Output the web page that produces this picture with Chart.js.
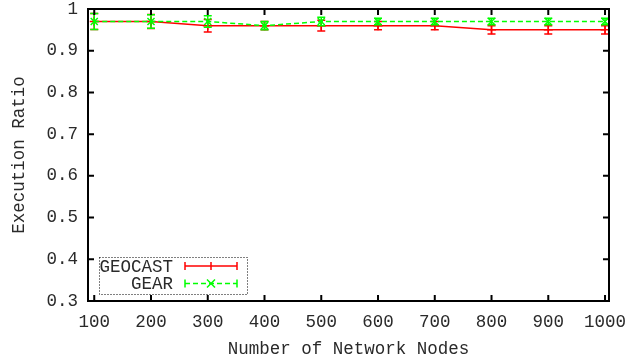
<!DOCTYPE html>
<html>
<head>
<meta charset="utf-8">
<script src="https://cdn.jsdelivr.net/npm/chart.js@4.4.0/dist/chart.umd.min.js"></script>
<style>
  html, body { margin: 0; padding: 0; background: #fff; }
  #wrap { width: 630px; height: 361px; }
</style>
</head>
<body>
<div id="wrap"><canvas id="chart"></canvas></div>
<script>
// data
const nodes = [100, 200, 300, 400, 500, 600, 700, 800, 900, 1000];
const geocast = [0.97, 0.97, 0.96, 0.96, 0.96, 0.96, 0.96, 0.95, 0.95, 0.95];
const geocastErr = [0.019, 0.017, 0.015, 0.01, 0.013, 0.01, 0.01, 0.01, 0.01, 0.01];
const gear = [0.97, 0.97, 0.97, 0.96, 0.97, 0.97, 0.97, 0.97, 0.97, 0.97];
const gearErr = [0.019, 0.016, 0.014, 0.01, 0.01, 0.008, 0.008, 0.008, 0.008, 0.008];
const xTicks = [100, 200, 300, 400, 500, 600, 700, 800, 900, 1000];
const yTicks = [0.3, 0.4, 0.5, 0.6, 0.7, 0.8, 0.9, 1];

const RED = '#ff0000';
const GREEN = '#00ff00';
const FONT = "'Liberation Mono', 'DejaVu Sans Mono', monospace";
const FONT_SIZE = 17.5;
const TEXT = '#2a2a2a';

Chart.defaults.font.family = FONT;
Chart.defaults.font.size = FONT_SIZE;
Chart.defaults.color = TEXT;

// vertical error bars with small caps, drawn right after each dataset
const errorBars = {
    id: 'errorBars',
    afterDatasetDraw(chart, args) {
        const ds = chart.data.datasets[args.index];
        if (!ds.errors) return;
        const { ctx, scales: { x, y } } = chart;
        ctx.save();
        ctx.strokeStyle = ds.borderColor;
        ctx.lineWidth = 1.5;
        ctx.setLineDash([]);
        ds.data.forEach((pt, i) => {
            const px = x.getPixelForValue(pt.x);
            const top = y.getPixelForValue(pt.y + ds.errors[i]);
            const bot = y.getPixelForValue(pt.y - ds.errors[i]);
            ctx.beginPath();
            ctx.moveTo(px, top); ctx.lineTo(px, bot);
            ctx.moveTo(px - 4, top); ctx.lineTo(px + 4, top);
            ctx.moveTo(px - 4, bot); ctx.lineTo(px + 4, bot);
            ctx.stroke();
        });
        ctx.restore();
    }
};

// gnuplot style frame with inward ticks on all four sides, plus the boxed key
const frame = {
    id: 'frame',
    afterDraw(chart) {
        const { ctx, chartArea: a, scales: { x, y } } = chart;
        ctx.save();
        ctx.strokeStyle = '#000';
        ctx.lineWidth = 2;
        ctx.setLineDash([]);
        ctx.strokeRect(a.left, a.top, a.right - a.left, a.bottom - a.top);
        ctx.beginPath();
        xTicks.forEach(v => {
            const px = x.getPixelForValue(v);
            ctx.moveTo(px, a.bottom); ctx.lineTo(px, a.bottom - 6);
            ctx.moveTo(px, a.top); ctx.lineTo(px, a.top + 6);
        });
        yTicks.forEach(v => {
            const py = y.getPixelForValue(v);
            ctx.moveTo(a.left, py); ctx.lineTo(a.left + 6, py);
            ctx.moveTo(a.right, py); ctx.lineTo(a.right - 6, py);
        });
        ctx.stroke();

        // key
        ctx.lineWidth = 1;
        ctx.setLineDash([1, 2]);
        ctx.strokeRect(99.5, 257.5, 148, 37);
        ctx.setLineDash([]);
        ctx.font = FONT_SIZE + 'px ' + FONT;
        ctx.fillStyle = TEXT;
        ctx.textAlign = 'right';
        ctx.textBaseline = 'middle';
        const rows = chart.data.datasets.slice().sort((p, q) => p.keyRow - q.keyRow);
        rows.forEach((ds, r) => {
            const ly = 266 + r * 17.5;
            ctx.fillText(ds.label, 173, ly + 1);
            ctx.strokeStyle = ds.borderColor;
            ctx.lineWidth = 1.5;
            ctx.setLineDash(ds.borderDash || []);
            ctx.beginPath();
            ctx.moveTo(185, ly); ctx.lineTo(237, ly);
            ctx.stroke();
            ctx.setLineDash([]);
            ctx.beginPath();
            ctx.moveTo(185, ly - 4); ctx.lineTo(185, ly + 4);
            ctx.moveTo(237, ly - 4); ctx.lineTo(237, ly + 4);
            if (ds.pointStyle === 'cross') {
                ctx.moveTo(211, ly - 4); ctx.lineTo(211, ly + 4);
            } else {
                ctx.moveTo(207, ly - 4); ctx.lineTo(215, ly + 4);
                ctx.moveTo(207, ly + 4); ctx.lineTo(215, ly - 4);
            }
            ctx.stroke();
        });
        ctx.restore();
    }
};

const toPoints = vals => nodes.map((n, i) => ({ x: n, y: vals[i] }));

new Chart(document.getElementById('chart'), {
    type: 'line',
    data: {
        datasets: [
            {
                label: 'GEOCAST',
                data: toPoints(geocast),
                errors: geocastErr,
                keyRow: 0,
                order: 2,
                borderColor: RED,
                borderWidth: 1.5,
                pointStyle: 'cross',
                pointRadius: 4.5,
                pointBorderColor: RED,
                pointBorderWidth: 1.5,
                tension: 0
            },
            {
                label: 'GEAR',
                data: toPoints(gear),
                errors: gearErr,
                keyRow: 1,
                order: 1,
                borderColor: GREEN,
                borderWidth: 1.5,
                borderDash: [5, 3],
                pointStyle: 'crossRot',
                pointRadius: 5,
                pointBorderColor: GREEN,
                pointBorderWidth: 1.5,
                tension: 0
            }
        ]
    },
    options: {
        responsive: true,
        maintainAspectRatio: false,
        animation: false,
        layout: { padding: { top: 9, right: 21, left: 0, bottom: 0 } },
        plugins: {
            legend: { display: false },
            tooltip: { enabled: false }
        },
        scales: {
            x: {
                type: 'linear',
                min: 89,
                max: 1007,
                grid: { display: false, drawTicks: false },
                border: { display: false },
                afterBuildTicks: s => { s.ticks = xTicks.map(v => ({ value: v })); },
                afterFit: s => { s.height = 60; s.paddingLeft = 0; s.paddingRight = 0; },
                ticks: {
                    autoSkip: false,
                    maxRotation: 0,
                    padding: 11,
                    color: TEXT,
                    callback: v => String(v)
                },
                title: {
                    display: true,
                    text: 'Number of Network Nodes',
                    color: TEXT,
                    padding: { top: 0, bottom: 1.5 }
                }
            },
            y: {
                min: 0.3,
                max: 1,
                grid: { display: false, drawTicks: false },
                border: { display: false },
                afterBuildTicks: s => { s.ticks = yTicks.map(v => ({ value: v })); },
                afterFit: s => { s.width = 88; s.paddingTop = 0; s.paddingBottom = 0; },
                ticks: {
                    padding: 10,
                    color: TEXT,
                    callback: v => String(+v.toFixed(1))
                },
                title: {
                    display: true,
                    text: 'Execution Ratio',
                    color: TEXT,
                    padding: { top: 8.5, bottom: 0 }
                }
            }
        }
    },
    plugins: [errorBars, frame]
});
</script>
</body>
</html>
